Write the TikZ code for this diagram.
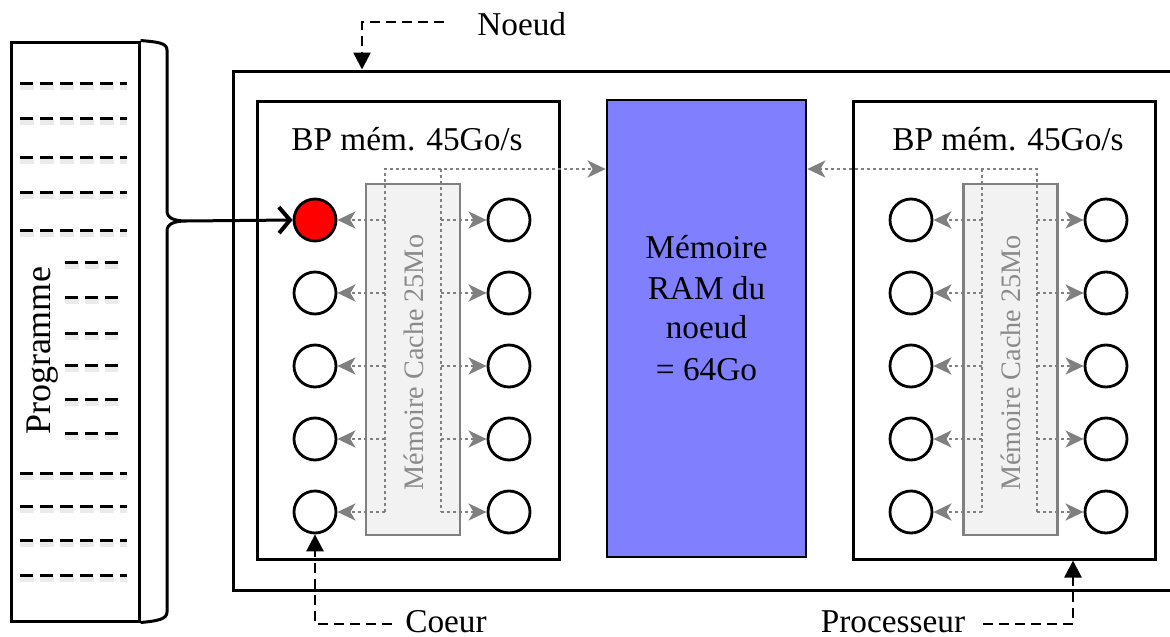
\documentclass[tikz,border=0pt]{standalone}
\usepackage{fontspec}
\setmainfont{Liberation Serif}
\usetikzlibrary{arrows.meta,calc}
\definecolor{busgray}{HTML}{808080}
\definecolor{ramblue}{HTML}{8080FF}
\definecolor{cachefill}{HTML}{F2F2F2}
\definecolor{shadowgray}{HTML}{EBEBEB}
\definecolor{cachetext}{HTML}{8A8A8A}
\begin{document}
\begin{tikzpicture}[x=1pt,y=-1pt,
  txt/.style={font=\fontsize{33.3}{40.7}\selectfont, inner sep=2pt},
  blackbox/.style={draw, line width=3pt, inner sep=0pt},
  cachebox/.style={draw=busgray, fill=cachefill, line width=2.7pt, inner sep=0pt, minimum width=94pt, minimum height=351pt},
  cachelbl/.style={font=\fontsize{28.2}{34}\selectfont, text=cachetext, inner sep=0pt, rotate=90, anchor=base},
  core/.style={circle, draw, line width=2.8pt, minimum size=42pt, inner sep=0pt, fill=white},
  bus/.style={draw=busgray, line width=2.6pt, dash pattern=on 3pt off 3pt},
  busarrow/.style={bus, -{Stealth[length=18pt,width=17pt,inset=5pt]}},
  lbl/.style={line width=2.6pt, dash pattern=on 10pt off 6pt, -{Triangle[length=17pt,width=17pt]}},
  progdash/.style={line width=3pt, dash pattern=on 13pt off 7pt},
  progshadow/.style={line width=6pt, draw=shadowgray, dash pattern=on 14pt off 6pt},
]
\useasboundingbox (0,0) rectangle (1170,637);

% node box
\node[blackbox, minimum width=952pt, minimum height=519pt] (noeud) at (709,330.5) {};

% processors
\node[blackbox, minimum width=302pt, minimum height=458pt] (proc1) at (408,330) {};
\node[blackbox, minimum width=302pt, minimum height=458pt] (proc2) at (1004,330) {};

% RAM
\node[blackbox, fill=ramblue, line width=2.7pt, minimum width=199pt, minimum height=457pt] (ram) at (706.5,328.5) {};
\node[txt, anchor=base] (ram1) at (706.5,258) {Mémoire};
\node[txt, anchor=base] (ram2) at (706.5,299) {RAM du};
\node[txt, anchor=base] (ram3) at (706.5,338.5) {noeud};
\node[txt, anchor=base] (ram4) at (706.5,380) {= 64Go};

% caches
\node[cachebox] (cache1) at (413,359.5) {};
\node[cachebox] (cache2) at (1010.5,359.5) {};
\node[cachelbl] (cachel1) at (423,362.5) {Mémoire Cache 25Mo};
\node[cachelbl] (cachel2) at (1020,363) {Mémoire Cache 25Mo};

% bandwidth labels
\node[txt, anchor=base] (bp1) at (407,150) {BP mém. 45Go/s};
\node[txt, anchor=base] (bp2) at (1008,150) {BP mém. 45Go/s};

% cores
\node[core, fill=red] (a1) at (315,220) {};
\foreach \i/\y in {2/293,3/366,4/439,5/512} {
  \node[core] (a\i) at (315,\y) {};
}
\foreach \i/\y in {1/220,2/293,3/366,4/439,5/512} {
  \node[core] (b\i) at (509,\y) {};
  \node[core] (c\i) at (911,\y) {};
  \node[core] (d\i) at (1106,\y) {};
}

% buses
\coordinate (p1L) at (385,169);
\coordinate (p1R) at (441,169);
\coordinate (p2L) at (982,169);
\coordinate (p2R) at (1037,169);
\draw[busarrow] (p1L |- a5) -- (p1L) -- (p1L -| ram.west);
\draw[bus] (p1R) -- (p1R |- b5);
\draw[busarrow] (p2R |- d5) -- (p2R) -- (p2R -| ram.east);
\draw[bus] (p2L) -- (p2L |- c5);
\foreach \i in {1,...,5} {
  \draw[busarrow] (p1L |- a\i) -- (a\i);
  \draw[busarrow] (p1R |- b\i) -- (b\i);
  \draw[busarrow] (p2L |- c\i) -- (c\i);
  \draw[busarrow] (p2R |- d\i) -- (d\i);
}

% programme
\node[blackbox, minimum width=128pt, minimum height=579pt] (prog) at (75,331.5) {};
\foreach \y in {83,118,157,192,230,473,506,540,575} {
  \draw[progshadow] (20,{\y+4}) -- (127,{\y+4});
  \draw[progdash] (20,\y) -- (127,\y);
}
\foreach \y in {262,297,333,365,399,433} {
  \draw[progshadow] (65,{\y+4}) -- (118,{\y+4});
  \draw[progdash] (65,\y) -- (118,\y);
}
\node[txt, font=\fontsize{36}{40}\selectfont, rotate=90, anchor=base, inner sep=0pt] (progl) at (50,351) {Programme};
\draw[line width=3pt] (prog.north east) .. controls (158,42) and (167,43) .. (167,50)
  -- (167,211) .. controls (167,218) and (174,221) .. (186,221) coordinate (tip)
  .. controls (174,221) and (167,224) .. (167,231)
  -- (167,612) .. controls (167,619) and (158,621) .. (prog.south east);
\draw[line width=3pt, -{Straight Barb[length=11pt,width=26pt,line width=4pt]}] (tip) -- (a1.west);

% labels
\node[txt, anchor=base] (noeudl) at (521.7,35) {Noeud};
\node[txt, anchor=base] (coeurl) at (446,632) {Coeur};
\node[txt, anchor=base] (procl) at (893,632) {Processeur};
\coordinate (nstart) at (444,22);
\coordinate (ncol) at (362,0);
\draw[lbl] (nstart) -| (ncol |- noeud.north);
\coordinate (cstart) at (392,624);
\draw[lbl] (cstart) -| (a5.south);
\coordinate (pstart) at (983,624);
\coordinate (pcol) at (1073,0);
\draw[lbl] (pstart) -| (pcol |- proc2.south);
\end{tikzpicture}
\end{document}
